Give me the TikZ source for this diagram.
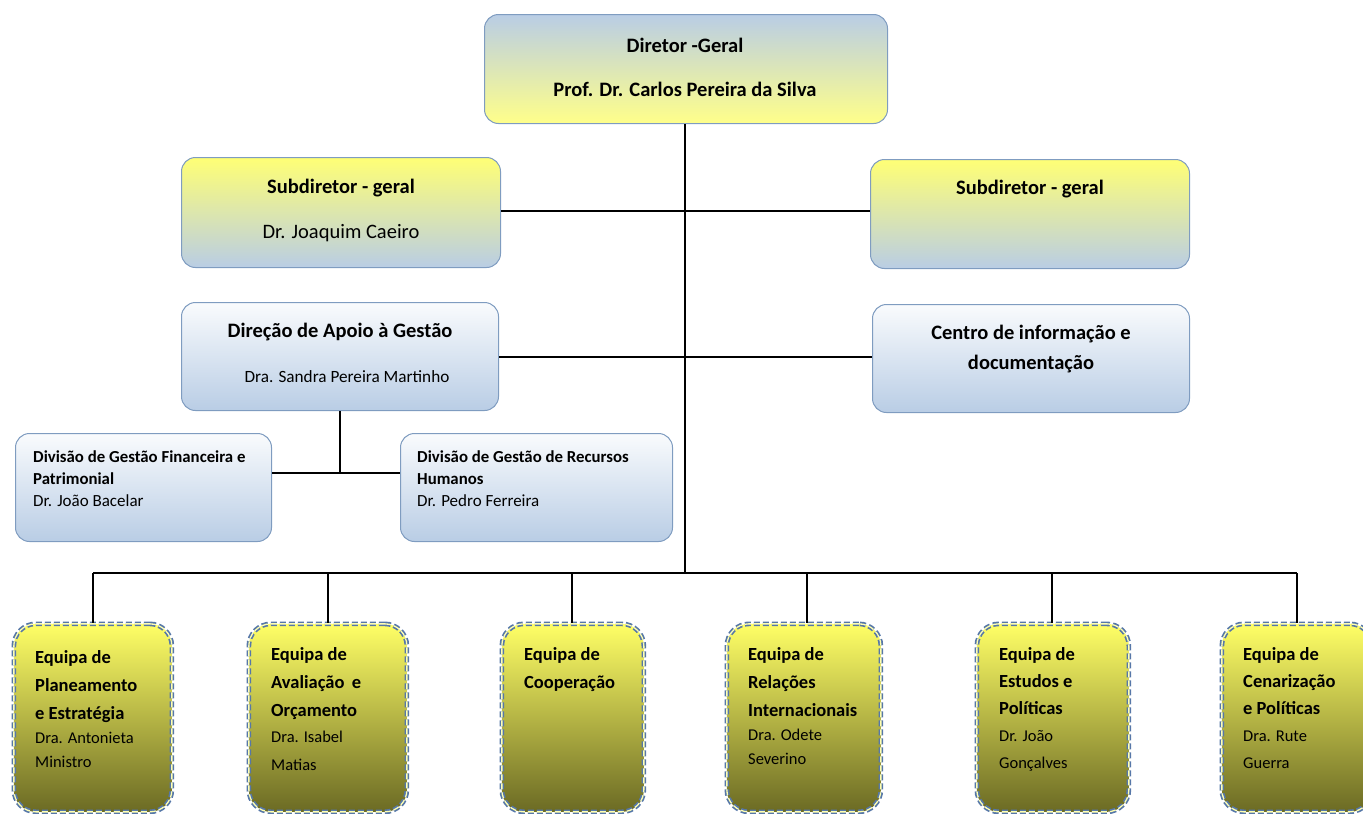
\documentclass[tikz,border=0pt]{standalone}
\usepackage{fontspec}
\setmainfont{Carlito}
\definecolor{bdr}{HTML}{7F9CC0}
\definecolor{lblue}{HTML}{B9CDE5}
\definecolor{pyel}{HTML}{FFFF8A}
\definecolor{byel}{HTML}{FFFF66}
\definecolor{myel}{HTML}{D8D84A}
\definecolor{olive}{HTML}{6B6A24}
\definecolor{dblue}{HTML}{5677A8}
\newcommand\hb[1]{{\fontsize{18.5}{20}\selectfont\bfseries #1}}
\newcommand\db[1]{{\fontsize{16.8}{19}\selectfont\bfseries #1}}
\tikzset{
  box/.style={draw=bdr, line width=1pt, rounded corners=14pt, anchor=north west, inner sep=0pt},
  dirbox/.style={box, top color=lblue, bottom color=pyel},
  subbox/.style={box, top color=byel!90!white, bottom color=lblue},
  bluebox/.style={box, top color=white!92!lblue, bottom color=lblue},
  teambox/.style={box, draw=dblue, line width=1.7pt, double=white!50!byel, double distance=1.3pt,
     dash pattern=on 6pt off 3pt, rounded corners=22pt,
     top color=byel, middle color=myel, bottom color=olive, minimum height=188pt},
  tb/.style={font=\fontsize{20.5}{23}\selectfont\bfseries, inner sep=0pt},
  tr/.style={font=\fontsize{20.5}{23}\selectfont, inner sep=0pt},
  ttxt/.style={anchor=north west, align=left, inner sep=0pt, font=\fontsize{16.5}{20}\selectfont},
  dtxt/.style={anchor=north west, align=left, inner sep=0pt, font=\fontsize{17}{19}\selectfont},
  conn/.style={line width=1.8pt, black},
}
\begin{document}
\begin{tikzpicture}[x=1pt,y=-1pt]
\useasboundingbox (0,0) rectangle (1363,814);
% boxes
\node[dirbox, minimum width=403pt, minimum height=109pt] (dir) at (484,14) {};
\node[subbox, minimum width=319pt, minimum height=110pt] (sub1) at (181,157) {};
\node[subbox, minimum width=319pt, minimum height=109pt] (sub2) at (870,159) {};
\node[bluebox, minimum width=317pt, minimum height=108pt] (dag) at (181,302) {};
\node[bluebox, minimum width=317pt, minimum height=108pt] (cid) at (872,304) {};
\node[bluebox, minimum width=256pt, minimum height=108pt] (dfin) at (15,433) {};
\node[bluebox, minimum width=272pt, minimum height=108pt] (drh) at (400,433) {};
% team boxes
\node[teambox, minimum width=158pt] (e1) at (13,623) {};
\node[teambox, minimum width=158pt] (e2) at (248,623) {};
\node[teambox, minimum width=142pt] (e3) at (501,623) {};
\node[teambox, minimum width=154pt] (e4) at (726,623) {};
\node[teambox, minimum width=152pt] (e5) at (976,623) {};
\node[teambox, minimum width=150pt] (e6) at (1221,623) {};
% texts
\node[tb] (t1) at (685,45) {Diretor -Geral};
\node[tb] (t2) at (685,89) {Prof. Dr. Carlos Pereira da Silva};
\node[tb] (t3) at (341,188) {Subdiretor - geral};
\node[tr] (t4) at (341,233) {Dr. Joaquim Caeiro};
\node[tb] (t5) at (1030,189) {Subdiretor - geral};
\node[tb] (t6) at (340,332) {Direção de Apoio à Gestão};
\node[tr, font=\fontsize{17.2}{20}\selectfont] (t7) at (347,377) {Dra. Sandra Pereira Martinho};
\node[tb, align=center, font=\fontsize{20.5}{30}\selectfont\bfseries] (t8) at (1031,349) {Centro de informação e\\documentação};
\node[dtxt] (t9) at (33,451) {\db{Divisão de Gestão Financeira e}\\[3pt]\db{Patrimonial}\\[3pt]Dr. João Bacelar};
\node[dtxt] (t10) at (417,451) {\db{Divisão de Gestão de Recursos}\\[3pt]\db{Humanos}\\[3pt]Dr. Pedro Ferreira};
\node[ttxt] (q1) at (35,650) {\hb{Equipa de}\\[8pt]\hb{Planeamento}\\[8pt]\hb{e Estratégia}\\[4pt]Dra. Antonieta\\[4pt]Ministro};
\node[ttxt] (q2) at (271,647) {\hb{Equipa de}\\[8pt]\hb{Avaliação\, e}\\[8pt]\hb{Orçamento}\\[6pt]Dra. Isabel\\[8pt]Matias};
\node[ttxt] (q3) at (524,647) {\hb{Equipa de}\\[8pt]\hb{Cooperação}};
\node[ttxt] (q4) at (748,647) {\hb{Equipa de}\\[8pt]\hb{Relações}\\[8pt]\hb{Internacionais}\\[4pt]Dra. Odete\\[4pt]Severino};
\node[ttxt] (q5) at (999,647) {\hb{Equipa de}\\[7pt]\hb{Estudos e}\\[7pt]\hb{Políticas}\\[7pt]Dr. João\\[7pt]Gonçalves};
\node[ttxt] (q6) at (1243,647) {\hb{Equipa de}\\[7pt]\hb{Cenarização}\\[7pt]\hb{e Políticas}\\[7pt]Dra. Rute\\[7pt]Guerra};
% connectors
\coordinate (bus) at (685,573);
\coordinate (bl) at (93,573);
\coordinate (br) at (1297,573);
\coordinate (j1) at (685,211);
\coordinate (j2) at (685,357);
\coordinate (j3) at (340,473);
\draw[conn] (dir.south -| bus) -- (bus);
\draw[conn] (bl) -- (br);
\draw[conn] (sub1.east |- j1) -- (sub2.west |- j1);
\draw[conn] (dag.east |- j2) -- (cid.west |- j2);
\draw[conn] (dag.south -| j3) -- (j3);
\draw[conn] (dfin.east |- j3) -- (drh.west |- j3);
\foreach \n/\x in {e1/93,e2/328,e3/572,e4/807,e5/1052,e6/1297}{
  \draw[conn] (\x,573) -- (\n.north -| {(\x,0)});
}
\end{tikzpicture}
\end{document}
